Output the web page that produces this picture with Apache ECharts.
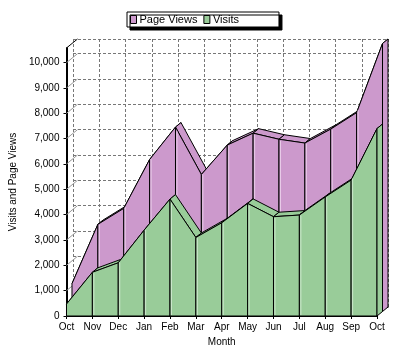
<!DOCTYPE html>
<html><head><meta charset="utf-8">
<script src="https://cdn.jsdelivr.net/npm/echarts@6/dist/echarts.min.js"></script>
<style>html,body{margin:0;padding:0;background:#fff}#c{width:400px;height:356px}</style>
</head><body><div id="c"></div>
<script>
// ---- data ----
const months = ['Oct','Nov','Dec','Jan','Feb','Mar','Apr','May','Jun','Jul','Aug','Sep','Oct'];
const pageViews = [1100, 3440, 4070, 6000, 7280, 5410, 6570, 7040, 6800, 6650, 7200, 7850, 10580];
const visits    = [470, 1725, 2100, 3390, 4615, 3100, 3680, 4445, 3920, 3985, 4700, 5365, 7400];
const yMax = 10580;
const yInterval = 1000;
const yTickValues = [0,1000,2000,3000,4000,5000,6000,7000,8000,9000,10000];

// ---- style ----
const FONT = '"Liberation Sans", Arial, sans-serif';
const DEPTH = [11, -9];
const HALF = [5.5, -4.5];
const C_PV = '#cc99cc', C_PV_HI = '#e8cce8';
const C_V = '#99cc99', C_V_HI = '#cce6cc';

function segData(vals) {
  const out = [];
  for (let i = 0; i < vals.length - 1; i++) out.push([i, vals[i], vals[i + 1], i === vals.length - 2 ? 1 : 0]);
  return out;
}
const off = (p, d) => [p[0] + d[0], p[1] + d[1]];

function areaRender(f, k, fill, hi) {
  return function (params, api) {
    const i = api.value(0);
    const a = api.coord([i, api.value(1)]);
    const b = api.coord([i + 1, api.value(2)]);
    const a0 = api.coord([i, 0]);
    const b0 = api.coord([i + 1, 0]);
    const st = { fill: fill, stroke: '#000', lineWidth: 1 };
    const ch = [];
    ch.push({ type: 'polygon', shape: { points: [off(a, f), off(b, f), off(b, k), off(a, k)] }, style: st });
    ch.push({ type: 'polygon', shape: { points: [off(a, f), off(b, f), off(b0, f), off(a0, f)] }, style: st });
    if (i > 0) {
      const dx = 1.5;
      const yt = a[1] + (b[1] - a[1]) * dx / (b[0] - a[0]) + f[1] + 1.5;
      ch.push({ type: 'line', shape: { x1: a[0] + f[0] + dx, y1: yt, x2: a[0] + f[0] + dx, y2: a0[1] + f[1] - 1 },
        style: { stroke: hi, lineWidth: 1 } });
    }
    if (api.value(3)) {
      ch.push({ type: 'polygon', shape: { points: [off(b, f), off(b, k), off(b0, k), off(b0, f)] }, style: st });
    }
    return { type: 'group', children: ch };
  };
}

function wallRender(params, api) {
  const v = api.value(1);
  const p = api.coord([0, v]);
  const q = off(p, DEPTH);
  return { type: 'line', shape: { x1: p[0], y1: p[1], x2: q[0], y2: q[1] },
    style: { stroke: v === yMax ? '#000' : '#999', lineWidth: 1 } };
}

const chart = echarts.init(document.getElementById('c'), null, { renderer: 'canvas' });
chart.setOption({
  animation: false,
  backgroundColor: '#fff',
  textStyle: { fontFamily: FONT },
  legend: {
    left: 127, top: 12,
    data: ['Page Views', 'Visits'],
    icon: 'rect', itemWidth: 6, itemHeight: 8, itemGap: 6,
    padding: [2, 40, 2, 3],
    backgroundColor: '#fff', borderColor: '#000', borderWidth: 1, borderRadius: 0,
    shadowColor: '#000', shadowBlur: 0, shadowOffsetX: 3, shadowOffsetY: 3,
    itemStyle: { borderColor: '#000', borderWidth: 1 },
    textStyle: { fontFamily: FONT, fontSize: 11, color: '#000', padding: [0, 0, 0, -2] },
    selectedMode: false
  },
  grid: [
    { left: 73, right: 12, top: 39, bottom: 49, show: true, backgroundColor: '#fff', borderWidth: 0 },
    { left: 62, right: 23, top: 48, bottom: 40 }
  ],
  xAxis: [
    { type: 'category', gridIndex: 0, data: months, boundaryGap: false, position: 'top',
      axisLine: { show: true, lineStyle: { color: '#000', width: 1 } },
      axisTick: { show: false }, axisLabel: { show: false },
      splitLine: { show: true, interval: 0, lineStyle: { color: '#777', type: [3, 2], width: 1 } } },
    { type: 'category', gridIndex: 1, data: months, boundaryGap: false,
      name: 'Month', nameLocation: 'middle', nameGap: 18,
      nameTextStyle: { fontFamily: FONT, fontSize: 10, color: '#000' },
      axisLine: { show: true, lineStyle: { color: '#000', width: 1 } },
      axisTick: { show: true, length: 3, interval: 0, lineStyle: { color: '#000' } },
      minorTick: { show: false },
      axisLabel: { interval: 0, fontFamily: FONT, fontSize: 10, color: '#000', margin: 6 },
      splitLine: { show: false } }
  ],
  yAxis: [
    { type: 'value', gridIndex: 0, min: 0, max: yMax, interval: yInterval,
      axisLine: { show: false }, axisTick: { show: false }, axisLabel: { show: false },
      splitLine: { show: true, lineStyle: { color: '#777', type: [3, 2], width: 1 } } },
    { type: 'value', gridIndex: 1, min: 0, max: yMax, interval: yInterval,
      name: 'Visits and Page Views', nameLocation: 'middle', nameGap: 39,
      nameTextStyle: { fontFamily: FONT, fontSize: 10, color: '#000' },
      axisLine: { show: true, lineStyle: { color: '#000', width: 2 } },
      axisTick: { show: true, length: 3, lineStyle: { color: '#000' } },
      axisLabel: { fontFamily: FONT, fontSize: 10, color: '#000', margin: 7, showMaxLabel: false,
        formatter: v => v.toLocaleString('en-US') },
      splitLine: { show: false } }
  ],
  series: [
    { type: 'custom', name: 'wall', xAxisIndex: 1, yAxisIndex: 1, z: 1, silent: true,
      data: yTickValues.concat([yMax]).map(v => [0, v]), renderItem: wallRender },
    { type: 'custom', name: 'Page Views', xAxisIndex: 1, yAxisIndex: 1, z: 2,
      itemStyle: { color: C_PV }, data: segData(pageViews),
      renderItem: areaRender(HALF, DEPTH, C_PV, C_PV_HI) },
    { type: 'custom', name: 'Visits', xAxisIndex: 1, yAxisIndex: 1, z: 3,
      itemStyle: { color: C_V }, data: segData(visits),
      renderItem: areaRender([0, 0], HALF, C_V, C_V_HI) }
  ]
});
</script>
</body></html>
